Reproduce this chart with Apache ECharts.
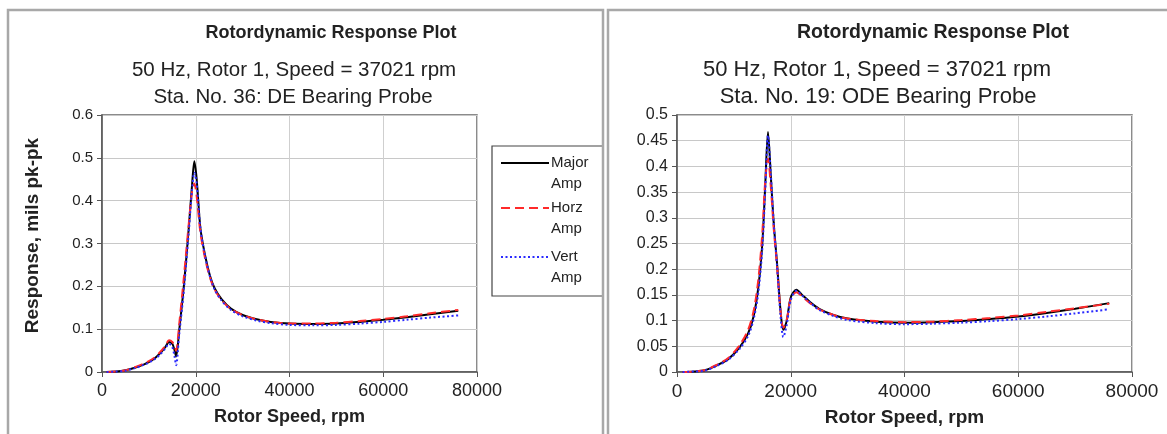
<!DOCTYPE html>
<html>
<head>
<meta charset="utf-8">
<script src="https://cdn.jsdelivr.net/npm/echarts@6/dist/echarts.min.js"></script>
<style>
html,body{margin:0;padding:0;background:#fff;}
#c{width:1167px;height:434px;}
</style>
</head>
<body>
<div id="c"></div>
<script>
// ---- data ----
const chartTitle = 'Rotordynamic Response Plot';
const leftSub1 = '50 Hz, Rotor 1, Speed = 37021 rpm';
const leftSub2 = 'Sta. No. 36: DE Bearing Probe';
const rightSub1 = '50 Hz, Rotor 1, Speed = 37021 rpm';
const rightSub2 = 'Sta. No. 19: ODE Bearing Probe';
const xName = 'Rotor Speed, rpm';
const yName = 'Response, mils pk-pk';
const seriesNames = ['Major Amp', 'Horz Amp', 'Vert Amp'];
const legendLines = [['Major', 'Amp'], ['Horz', 'Amp'], ['Vert', 'Amp']];

const leftSpeed = [1000, 3000, 5000, 7000, 9000, 11000, 12500, 13500, 14300, 15000, 15500, 15800, 16500, 17500, 18500, 19200, 19700, 20200, 21000, 22000, 23000, 24000, 25500, 27500, 30000, 33000, 36000, 40000, 45000, 50000, 55000, 60000, 65000, 70000, 76000];
const leftMajor = [0, 0.001, 0.004, 0.010, 0.018, 0.030, 0.045, 0.058, 0.070, 0.066, 0.050, 0.036, 0.100, 0.205, 0.335, 0.435, 0.492, 0.450, 0.335, 0.272, 0.226, 0.196, 0.170, 0.148, 0.133, 0.123, 0.117, 0.113, 0.112, 0.113, 0.117, 0.122, 0.128, 0.135, 0.143];
const leftHorz  = [0, 0.001, 0.004, 0.011, 0.020, 0.032, 0.048, 0.061, 0.074, 0.070, 0.060, 0.050, 0.115, 0.225, 0.345, 0.420, 0.440, 0.410, 0.325, 0.265, 0.222, 0.193, 0.168, 0.147, 0.133, 0.123, 0.117, 0.113, 0.113, 0.115, 0.119, 0.124, 0.130, 0.137, 0.145];
const leftVert  = [0, 0.001, 0.003, 0.009, 0.017, 0.028, 0.042, 0.055, 0.066, 0.058, 0.035, 0.016, 0.090, 0.195, 0.325, 0.425, 0.465, 0.440, 0.335, 0.270, 0.224, 0.193, 0.167, 0.145, 0.130, 0.120, 0.114, 0.110, 0.109, 0.110, 0.113, 0.117, 0.122, 0.127, 0.132];

const rightSpeed = [1000, 3000, 5000, 7000, 9000, 11000, 12500, 13500, 14300, 15000, 15500, 16000, 16500, 17000, 17600, 18200, 18700, 19300, 20000, 21000, 22000, 23500, 25000, 27500, 30000, 35000, 40000, 45000, 50000, 55000, 60000, 65000, 70000, 76000];
const rightMajor = [0, 0.001, 0.004, 0.013, 0.025, 0.048, 0.075, 0.110, 0.165, 0.250, 0.360, 0.467, 0.380, 0.290, 0.210, 0.120, 0.082, 0.100, 0.145, 0.160, 0.150, 0.135, 0.123, 0.111, 0.104, 0.098, 0.096, 0.097, 0.099, 0.103, 0.108, 0.115, 0.123, 0.134];
const rightHorz  = [0, 0.001, 0.004, 0.014, 0.027, 0.052, 0.082, 0.120, 0.180, 0.270, 0.370, 0.415, 0.360, 0.280, 0.205, 0.120, 0.086, 0.102, 0.143, 0.155, 0.147, 0.133, 0.122, 0.111, 0.104, 0.099, 0.097, 0.098, 0.101, 0.105, 0.110, 0.117, 0.124, 0.133];
const rightVert  = [0, 0.001, 0.003, 0.012, 0.024, 0.045, 0.070, 0.104, 0.155, 0.240, 0.350, 0.460, 0.385, 0.290, 0.205, 0.110, 0.068, 0.092, 0.140, 0.158, 0.149, 0.134, 0.121, 0.109, 0.101, 0.095, 0.093, 0.094, 0.096, 0.099, 0.103, 0.108, 0.114, 0.122];

const xTicks = ['0', '20000', '40000', '60000', '80000'];
const leftYTicks = ['0', '0.1', '0.2', '0.3', '0.4', '0.5', '0.6'];
const rightYTicks = ['0', '0.05', '0.1', '0.15', '0.2', '0.25', '0.3', '0.35', '0.4', '0.45', '0.5'];

// ---- styles ----
const FONT = '"Liberation Sans", Arial, sans-serif';
const TXT = '#222';
const colors = ['#000000', '#ff2a2a', '#2a2aff'];
const lineTypes = ['solid', [9, 5], [2, 2.5]];

function pair(xs, ys) { return xs.map((x, i) => [x, ys[i]]); }

function xAxisOf(grid, fs, nameFs) {
  return {
    type: 'value', gridIndex: grid, min: 0, max: 80000, interval: 20000,
    name: xName, nameLocation: 'middle', nameGap: 36,
    nameTextStyle: { fontFamily: FONT, fontSize: nameFs, fontWeight: 'bold', color: TXT },
    axisLine: { show: true, lineStyle: { color: '#555', width: 1.5 } },
    axisTick: { show: true, length: 5, lineStyle: { color: '#555' } },
    axisLabel: { fontFamily: FONT, fontSize: fs, color: TXT, margin: 10,
      formatter: (v) => xTicks[Math.round(v / 20000)] },
    splitLine: { show: true, lineStyle: { color: '#cfcfcf', width: 1 } }
  };
}
function yAxisOf(grid, max, interval, ticks, fs, named) {
  const o = {
    type: 'value', gridIndex: grid, min: 0, max: max, interval: interval,
    axisLine: { show: true, lineStyle: { color: '#555', width: 1.5 } },
    axisTick: { show: true, length: 5, lineStyle: { color: '#555' } },
    axisLabel: { fontFamily: FONT, fontSize: fs, color: TXT, margin: 9,
      formatter: (v) => ticks[Math.round(v / interval)] },
    splitLine: { show: true, lineStyle: { color: '#c8c8c8', width: 1 } }
  };
  if (named) {
    o.name = yName; o.nameLocation = 'middle'; o.nameGap = 60;
    o.nameTextStyle = { fontFamily: FONT, fontSize: 19, fontWeight: 'bold', color: TXT, padding: [0, 0, 0, 16] };
  }
  return o;
}
function seriesOf(xs, ys, k, xi, yi) {
  return {
    type: 'line', name: seriesNames[k], xAxisIndex: xi, yAxisIndex: yi,
    data: pair(xs, ys), showSymbol: false, symbol: 'none', smooth: 0.3,
    lineStyle: { color: colors[k], width: 2, type: lineTypes[k] },
    z: 3 + k, animation: false
  };
}

function txt(x, y, s, fs, bold) {
  return { type: 'text', x: x, y: y, z: 20,
    style: { text: s, fontFamily: FONT, fontSize: fs, fontWeight: bold ? 'bold' : 'normal',
      fill: TXT, align: 'center', verticalAlign: 'middle' } };
}

const legendItems = [];
const legendYs = [163, 208, 257];
legendLines.forEach((ln, k) => {
  legendItems.push({ type: 'line', z: 21, shape: { x1: 501, y1: legendYs[k], x2: 549, y2: legendYs[k] },
    style: { stroke: colors[k], lineWidth: 2, lineDash: k === 0 ? null : lineTypes[k] } });
  legendItems.push({ type: 'text', x: 551, y: legendYs[k], z: 21,
    style: { text: ln[0], fontFamily: FONT, fontSize: 15, fill: TXT, align: 'left', verticalAlign: 'middle' } });
  legendItems.push({ type: 'text', x: 551, y: legendYs[k] + 21, z: 21,
    style: { text: ln[1], fontFamily: FONT, fontSize: 15, fill: TXT, align: 'left', verticalAlign: 'middle' } });
});

const chart = echarts.init(document.getElementById('c'), null, { renderer: 'canvas' });
chart.setOption({
  animation: false,
  backgroundColor: '#fff',
  grid: [
    { left: 102, top: 115, width: 375, height: 257, show: true, borderColor: '#666', borderWidth: 1.5 },
    { left: 677, top: 115, width: 455, height: 257, show: true, borderColor: '#666', borderWidth: 1.5 }
  ],
  xAxis: [xAxisOf(0, 18, 18), xAxisOf(1, 19, 19)],
  yAxis: [yAxisOf(0, 0.6, 0.1, leftYTicks, 15, true), yAxisOf(1, 0.5, 0.05, rightYTicks, 16, false)],
  series: [
    seriesOf(leftSpeed, leftMajor, 0, 0, 0),
    seriesOf(leftSpeed, leftHorz, 1, 0, 0),
    seriesOf(leftSpeed, leftVert, 2, 0, 0),
    seriesOf(rightSpeed, rightMajor, 0, 1, 1),
    seriesOf(rightSpeed, rightHorz, 1, 1, 1),
    seriesOf(rightSpeed, rightVert, 2, 1, 1)
  ],
  graphic: [
    { type: 'rect', z: 19, shape: { x: 492, y: 146, width: 112, height: 150 }, style: { fill: '#fff', stroke: '#444', lineWidth: 1.2 } },
    { type: 'rect', z: 29, shape: { x: 603, y: 0, width: 6, height: 434 }, style: { fill: '#fff' } },
    // panel frames
    { type: 'rect', z: 30, shape: { x: 8, y: 10, width: 595, height: 440 }, style: { fill: 'none', stroke: '#a8a8a8', lineWidth: 2.5 } },
    { type: 'rect', z: 30, shape: { x: 608, y: 10, width: 580, height: 440 }, style: { fill: 'none', stroke: '#a8a8a8', lineWidth: 2.5 } },
    ...legendItems,
    txt(331, 33, chartTitle, 18, true),
    txt(294, 70, leftSub1, 20.5, false),
    txt(293, 97, leftSub2, 20.5, false),
    txt(933, 33, chartTitle, 19.5, true),
    txt(877, 70, rightSub1, 22, false),
    txt(878, 97, rightSub2, 22, false)
  ]
});
</script>
</body>
</html>
